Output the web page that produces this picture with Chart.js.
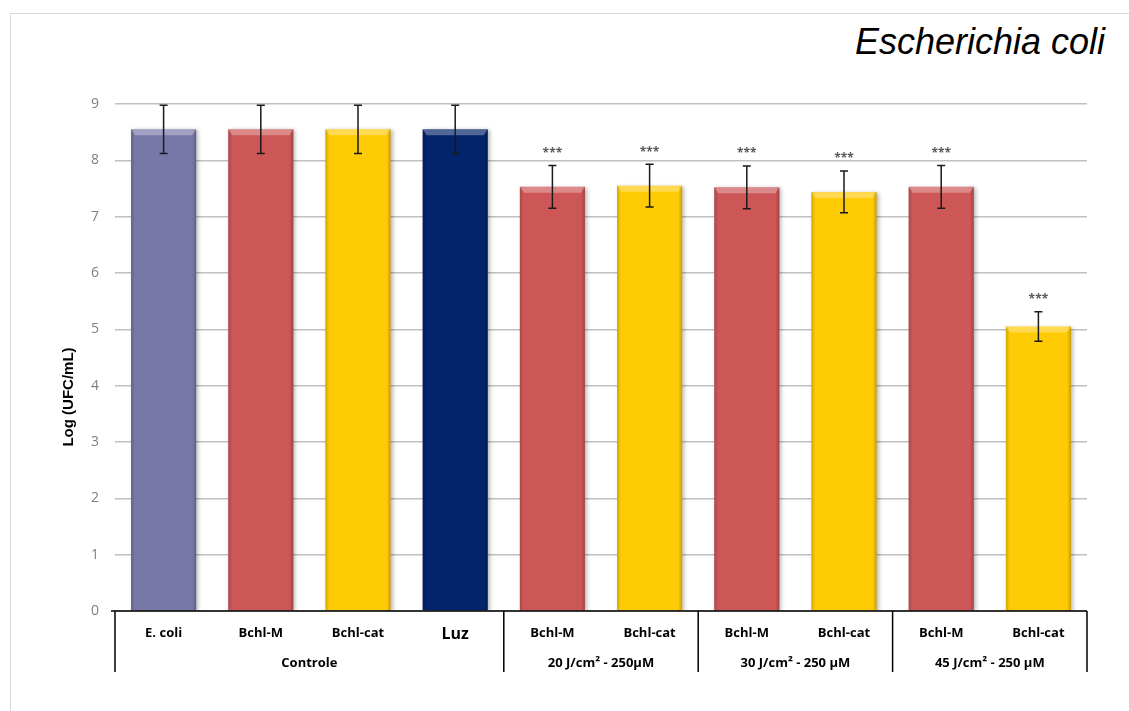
<!DOCTYPE html>
<html>
<head>
<meta charset="utf-8">
<title>Escherichia coli</title>
<script src="https://cdn.jsdelivr.net/npm/chart.js@4/dist/chart.umd.min.js"></script>
<style>
  html, body { margin: 0; padding: 0; background: #fff; }
  #wrap { position: relative; width: 1129px; height: 711px; overflow: hidden; }
  #frame { position: absolute; left: 10px; top: 13px; width: 1200px; height: 800px;
           border-top: 1px solid #d9d9d9; border-left: 1px solid #d9d9d9; }
  #title { position: absolute; right: 24px; top: 21px; margin: 0; font-weight: normal;
           font: italic 36px "Liberation Sans", Arial, sans-serif; color: #000; }
  canvas { position: absolute; left: 0; top: 0; }
</style>
</head>
<body>
<div id="wrap">
  <div id="frame"></div>
  <h1 id="title">Escherichia coli</h1>
  <canvas id="ecoliChart" width="1129" height="711"></canvas>
</div>
<script>
// tratamentos e valores (Log UFC/mL)
const categories = ['E. coli', 'Bchl-M', 'Bchl-cat', 'Luz', 'Bchl-M', 'Bchl-cat', 'Bchl-M', 'Bchl-cat', 'Bchl-M', 'Bchl-cat'];
const logValues = [8.55, 8.55, 8.55, 8.55, 7.53, 7.55, 7.52, 7.44, 7.53, 5.05];
const errValues = [0.43, 0.43, 0.43, 0.43, 0.38, 0.38, 0.38, 0.37, 0.38, 0.26];
const signif = ['', '', '', '', '***', '***', '***', '***', '***', '***'];
const barColors = ['#7878a8', '#cd5757', '#ffcb05', '#03246a', '#cd5757', '#ffcb05', '#cd5757', '#ffcb05', '#cd5757', '#ffcb05'];
const groupLabels = ['Controle', '20 J/cm² - 250μM', '30 J/cm² - 250 µM', '45 J/cm² - 250 µM'];
const groupSizes = [4, 2, 2, 2];
const yTicks = [0, 1, 2, 3, 4, 5, 6, 7, 8, 9];

const labelFont = '"Open Sans", "Liberation Sans", sans-serif';

// efeito de relevo nas barras + sombra
const bevelPlugin = {
    id: 'bevel',
    beforeDatasetsDraw(chart) {
        const ctx = chart.ctx;
        ctx.save();
        ctx.shadowColor = 'rgba(0,0,0,0.28)';
        ctx.shadowBlur = 4;
        ctx.shadowOffsetX = 2;
        ctx.shadowOffsetY = 1;
    },
    afterDatasetsDraw(chart) {
        const ctx = chart.ctx;
        ctx.restore();
        const meta = chart.getDatasetMeta(0);
        meta.data.forEach(bar => {
            const left = bar.x - bar.width / 2;
            const right = bar.x + bar.width / 2;
            const top = bar.y;
            const bottom = bar.base;
            const edge = 4;
            // laterais escuras
            let g = ctx.createLinearGradient(left, 0, right, 0);
            g.addColorStop(0, 'rgba(0,0,0,0.18)');
            g.addColorStop(0.06, 'rgba(0,0,0,0)');
            g.addColorStop(0.94, 'rgba(0,0,0,0)');
            g.addColorStop(1, 'rgba(0,0,0,0.22)');
            ctx.fillStyle = g;
            ctx.fillRect(left, top, right - left, bottom - top);
            // faixa superior clara
            ctx.beginPath();
            ctx.moveTo(left, top);
            ctx.lineTo(right, top);
            ctx.lineTo(right - edge, top + edge + 2);
            ctx.lineTo(left + edge, top + edge + 2);
            ctx.closePath();
            ctx.fillStyle = 'rgba(255,255,255,0.3)';
            ctx.fill();
        });
    }
};

// barras de erro e asteriscos de significância
const errorBarPlugin = {
    id: 'errorBars',
    afterDatasetsDraw(chart) {
        const ctx = chart.ctx;
        const y = chart.scales.y;
        const meta = chart.getDatasetMeta(0);
        ctx.save();
        ctx.strokeStyle = '#1a1a1a';
        ctx.lineWidth = 1.5;
        meta.data.forEach((bar, i) => {
            const v = logValues[i];
            const hi = y.getPixelForValue(v + errValues[i]);
            const lo = y.getPixelForValue(v - errValues[i]);
            const cap = 4;
            ctx.beginPath();
            ctx.moveTo(bar.x, hi); ctx.lineTo(bar.x, lo);
            ctx.moveTo(bar.x - cap, hi); ctx.lineTo(bar.x + cap, hi);
            ctx.moveTo(bar.x - cap, lo); ctx.lineTo(bar.x + cap, lo);
            ctx.stroke();
            if (signif[i]) {
                ctx.fillStyle = '#595959';
                ctx.font = 'bold 12px ' + labelFont;
                ctx.textAlign = 'center';
                ctx.textBaseline = 'middle';
                ctx.fillText(signif[i], bar.x, hi - 12);
            }
        });
        ctx.restore();
    }
};

// linhas divisórias e rótulos dos grupos no eixo x
const groupAxisPlugin = {
    id: 'groupAxis',
    afterDraw(chart) {
        const ctx = chart.ctx;
        const x = chart.scales.x;
        const area = chart.chartArea;
        const half = (x.getPixelForValue(1) - x.getPixelForValue(0)) / 2;
        const lineEnd = area.bottom + 61;
        ctx.save();
        ctx.strokeStyle = '#000';
        ctx.lineWidth = 1.5;
        let start = 0;
        const edges = [x.getPixelForValue(0) - half];
        groupSizes.forEach(n => {
            start += n;
            edges.push(x.getPixelForValue(start - 1) + half);
        });
        ctx.beginPath();
        ctx.moveTo(area.left - 4, area.bottom);
        ctx.lineTo(edges[edges.length - 1], area.bottom);
        edges.forEach(px => {
            ctx.moveTo(px, area.bottom);
            ctx.lineTo(px, lineEnd);
        });
        ctx.stroke();
        ctx.fillStyle = '#000';
        ctx.font = 'bold 13px ' + labelFont;
        ctx.textAlign = 'center';
        ctx.textBaseline = 'middle';
        groupLabels.forEach((lbl, i) => {
            ctx.fillText(lbl, (edges[i] + edges[i + 1]) / 2, area.bottom + 52);
        });
        // título do eixo y
        ctx.translate(69, 397);
        ctx.rotate(-Math.PI / 2);
        ctx.font = 'bold 15px "Liberation Sans", Arial, sans-serif';
        ctx.fillText('Log (UFC/mL)', 0, 0);
        ctx.restore();
    }
};

new Chart(document.getElementById('ecoliChart'), {
    type: 'bar',
    data: {
        labels: categories,
        datasets: [{
            data: logValues,
            backgroundColor: barColors,
            borderWidth: 0,
            barPercentage: 0.67,
            categoryPercentage: 1
        }]
    },
    options: {
        responsive: false,
        animation: false,
        layout: { padding: { top: 104, right: 42, bottom: 30, left: 10 } },
        plugins: {
            legend: { display: false },
            tooltip: { enabled: false }
        },
        scales: {
            y: {
                min: 0,
                max: 9,
                afterBuildTicks: s => { s.ticks = yTicks.map(v => ({ value: v })); },
                afterFit: s => { s.width = 105; },
                border: { display: false },
                grid: { color: '#c0c0c0', lineWidth: 1.5, drawTicks: false },
                ticks: {
                    color: '#7f7f7f',
                    padding: 16,
                    font: { family: labelFont, size: 14 }
                }
            },
            x: {
                afterFit: s => { s.height = 70; },
                border: { display: false },
                grid: { display: false },
                ticks: {
                    color: '#000',
                    padding: 6,
                    maxRotation: 0,
                    autoSkip: false,
                    font: ctx => ctx.index === 3
                        ? { family: labelFont, size: 16, weight: 'bold' }
                        : { family: labelFont, size: 13, weight: 'bold' }
                }
            }
        }
    },
    plugins: [bevelPlugin, errorBarPlugin, groupAxisPlugin]
});
</script>
</body>
</html>
